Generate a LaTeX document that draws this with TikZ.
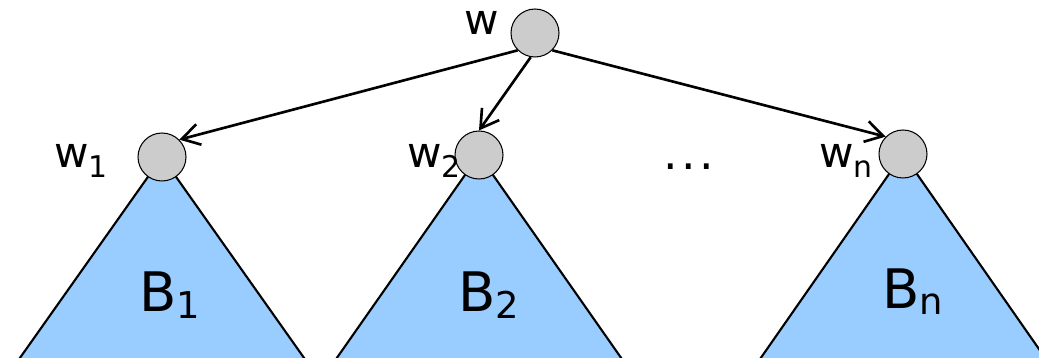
\documentclass[tikz,border=0pt]{standalone}
\usepackage{fontspec}
\setmainfont{DejaVu Sans}
\usetikzlibrary{arrows.meta,backgrounds}

\definecolor{vertgray}{RGB}{204,204,204}
\definecolor{treeblue}{RGB}{153,204,255}

\newcommand{\vsub}[1]{w\raisebox{-5.5pt}{\fontsize{17}{19}\selectfont #1}}
\newcommand{\tsub}[1]{B\raisebox{-3.5pt}{\fontsize{21}{23}\selectfont #1}}

\begin{document}
\begin{tikzpicture}[x=0.02cm, y=-0.02cm,
    vert/.style={circle, draw, fill=vertgray, minimum size=0.96cm, inner sep=0pt, line width=0.6pt},
    vlabel/.style={anchor=base west, inner sep=0pt, font=\fontsize{24}{28}\selectfont},
    tlabel/.style={anchor=base west, inner sep=0pt, font=\fontsize{31}{34}\selectfont},
    tree/.style={draw, fill=treeblue, line width=1.2pt, line join=miter},
    arr/.style={-{Straight Barb[length=10pt,width=12pt,line width=1.5pt]}, line width=1.5pt}
]
\useasboundingbox (0,0) rectangle (1039,358);

\node[vert] (w) at (535,33) {};
\node[vert] (w1) at (162,157) {};
\node[vert] (w2) at (479,155) {};
\node[vert] (wn) at (903,154) {};

\node[vlabel] (lw) at (464,35) {w};
\node[vlabel] (lw1) at (54,168) {\vsub{1}};
\node[vlabel] (lw2) at (407,168) {\vsub{2}};
\node[vlabel] (lwn) at (819,168) {\vsub{n}};
\node[vlabel, anchor=base, font=\fontsize{26}{28}\selectfont] (dots) at (689,170) {.\hspace{2pt}.\hspace{2pt}.};

% subtrees
\begin{scope}[on background layer]
\draw[tree] (w1.center) -- ++(-152,215) -- ++(304,0) -- cycle;
\draw[tree] (w2.center) -- ++(-152,217) -- ++(304,0) -- cycle;
\draw[tree] (wn.center) -- ++(-152,218) -- ++(304,0) -- cycle;
\end{scope}

\node[tlabel] (b1) at (139,312) {\tsub{1}};
\node[tlabel] (b2) at (458,312) {\tsub{2}};
\node[tlabel] (bn) at (882,308) {\tsub{n}};

\draw[arr] (w.south west) -- (w1.45);
\draw[arr] (w.-100) -- (w2.north);
\draw[arr] (w.south east) -- (wn.135);
\end{tikzpicture}
\end{document}
